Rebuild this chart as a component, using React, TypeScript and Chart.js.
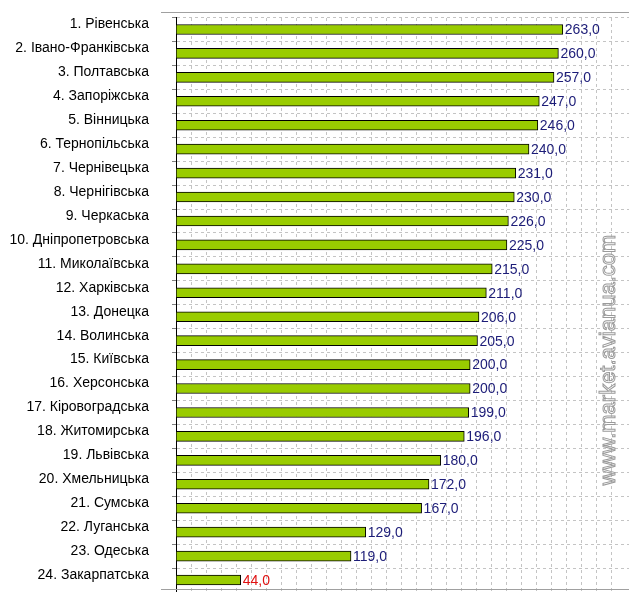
import { useEffect, useRef } from "react";
import Chart from "chart.js/auto";

const regions = [
  "1. Рівенська",
  "2. Івано-Франківська",
  "3. Полтавська",
  "4. Запоріжська",
  "5. Вінницька",
  "6. Тернопільська",
  "7. Чернівецька",
  "8. Чернігівська",
  "9. Черкаська",
  "10. Дніпропетровська",
  "11. Миколаївська",
  "12. Харківська",
  "13. Донецка",
  "14. Волинська",
  "15. Київська",
  "16. Херсонська",
  "17. Кіровоградська",
  "18. Житомирська",
  "19. Львівська",
  "20. Хмельницька",
  "21. Сумська",
  "22. Луганська",
  "23. Одеська",
  "24. Закарпатська",
];

const values = [
  263, 260, 257, 247, 246, 240, 231, 230, 226, 225, 215, 211, 206, 205, 200,
  200, 199, 196, 180, 172, 167, 129, 119, 44,
];

const FONT = "'Liberation Sans', Arial, sans-serif";
const GRID = "#c4c4c4";

// value labels, frame lines and watermark
const extras = {
  id: "extras",
  afterDatasetsDraw(chart: any) {
    const { ctx } = chart;
    const meta = chart.getDatasetMeta(0);
    ctx.save();
    ctx.font = `14px ${FONT}`;
    ctx.textBaseline = "middle";
    ctx.textAlign = "left";
    meta.data.forEach((bar: any, i: number) => {
      const v = values[i];
      ctx.fillStyle = v < 100 ? "#e01010" : "#1c1c78";
      ctx.fillText(v.toFixed(1).replace(".", ","), bar.x + 2, bar.y + 1);
    });

    // frame lines
    ctx.strokeStyle = "#a0a0a0";
    ctx.lineWidth = 1;
    ctx.beginPath();
    ctx.moveTo(161, 12.5);
    ctx.lineTo(chart.width, 12.5);
    ctx.moveTo(161, 589.5);
    ctx.lineTo(chart.width, 589.5);
    ctx.stroke();

    // watermark
    ctx.translate(609, 360);
    ctx.rotate(-Math.PI / 2);
    ctx.font = `22px ${FONT}`;
    ctx.textAlign = "center";
    ctx.strokeStyle = "#9a9a9a";
    ctx.lineWidth = 1;
    ctx.strokeText("www.market.avianua.com", 0, 0);
    ctx.restore();
  },
};

const App = () => {
  const chartRef = useRef<HTMLCanvasElement | null>(null);

  useEffect(() => {
    document.body.style.margin = "0";
    if (!chartRef.current) return;
    const ctx = chartRef.current.getContext("2d");
    if (!ctx) return;

    const chartInstance = new Chart(ctx, {
      type: "bar",
      data: {
        labels: regions,
        datasets: [
          {
            data: values,
            backgroundColor: "#99cc00",
            borderColor: "#000000",
            borderWidth: 1,
            borderSkipped: false,
            barThickness: 10,
          },
        ],
      },
      options: {
        indexAxis: "y",
        animation: false,
        responsive: true,
        maintainAspectRatio: false,
        layout: { padding: { top: 17.5, left: 0, right: 0, bottom: 0 } },
        plugins: {
          legend: { display: false },
          tooltip: { enabled: false },
        },
        scales: {
          x: {
            display: false,
            min: 0,
            max: 308,
          },
          x2: {
            type: "linear",
            position: "top",
            min: 0,
            max: 30.2,
            ticks: { display: false, stepSize: 1 },
            border: { display: false, dash: [3, 3] },
            grid: {
              color: GRID,
              drawTicks: false,
            },
            afterFit: (scale: any) => {
              scale.height = 0;
              scale.paddingLeft = 0;
              scale.paddingRight = 0;
            },
          },
          y: {
            border: { display: true, color: "#000000", width: 1, dash: [3, 3] },
            grid: {
              color: GRID,
              tickColor: "#808080",
              tickLength: 4,
              tickBorderDash: [],
              offset: true,
            },
            ticks: {
              color: "#000000",
              padding: 23,
              labelOffset: -5,
              font: { family: FONT, size: 14 },
            },
            afterFit: (scale: any) => {
              scale.width = 176;
              scale.paddingTop = 0;
              scale.paddingBottom = 0;
            },
          },
        },
      },
      plugins: [extras],
    } as any);

    return () => {
      chartInstance.destroy();
    };
  }, []);

  return (
    <div style={{ position: "relative", width: 629, height: 592 }}>
      <canvas ref={chartRef}></canvas>
    </div>
  );
};

export default App;
